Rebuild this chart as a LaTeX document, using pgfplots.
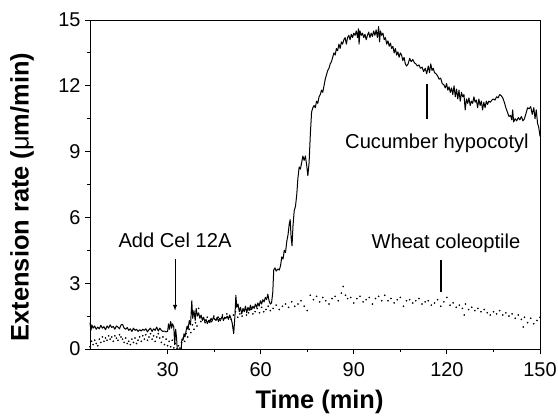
\documentclass[border=0pt]{standalone}
\usepackage{pgfplots}
\pgfplotsset{compat=1.18}
\usepackage{fontspec}
\setmainfont{Liberation Sans}
\pgfplotstableread{
t v
5.0 1.20
5.3 0.85
5.6 1.10
6.0 0.95
6.5 1.05
7.0 0.90
7.5 1.00
8.0 0.92
8.5 1.08
9.0 0.95
9.5 1.02
10.0 0.88
10.5 1.05
11.0 0.95
11.5 1.10
12.0 0.98
12.5 1.03
13.0 0.90
13.5 1.05
14.0 1.00
14.5 0.92
15.0 1.10
15.5 1.12
16.0 0.95
16.5 0.90
17.0 0.98
17.5 0.85
18.0 0.92
18.5 0.80
19.0 0.95
19.5 0.85
20.0 0.90
20.5 0.80
21.0 0.88
21.5 0.82
22.0 0.90
22.5 0.85
23.0 0.92
23.5 0.78
24.0 0.88
24.5 0.95
25.0 0.80
25.5 0.92
26.0 0.85
26.5 1.00
27.0 0.82
27.5 0.95
28.0 0.85
28.5 0.80
29.0 0.82
29.5 0.78
30.0 0.80
30.3 1.15
30.6 0.90
31.0 1.25
31.3 0.95
31.6 1.15
32.0 1.00
32.3 0.20
32.6 0.90
32.9 0.50
33.1 0.0
34.4 0.0
34.6 0.45
35.0 0.40
35.3 0.70
35.6 0.55
36.0 0.85
36.3 1.05
36.6 0.90
37.0 1.30
37.4 1.10
37.8 2.20
38.1 1.40
38.5 1.75
38.9 1.30
39.2 1.85
39.6 1.50
40.0 1.65
40.4 1.40
40.8 1.55
41.2 1.30
41.6 1.45
42.0 1.25
42.4 1.35
42.8 1.15
43.2 1.30
43.6 1.20
44.0 1.40
44.4 1.30
44.8 1.45
45.2 1.35
45.6 1.30
46.0 1.45
46.4 1.25
46.8 1.40
47.2 1.35
47.6 1.50
48.0 1.30
48.4 1.45
48.8 1.40
49.2 1.50
49.6 1.35
50.0 1.55
50.4 1.40
50.8 1.20
51.3 0.70
51.7 1.50
52.0 2.45
52.3 1.90
52.7 2.05
53.1 1.70
53.5 1.90
53.9 1.60
54.3 1.85
54.7 1.70
55.1 1.95
55.5 1.65
55.9 1.90
56.3 1.75
56.7 2.00
57.1 1.80
57.5 1.95
57.9 1.85
58.3 2.05
58.7 1.90
59.1 2.10
59.5 1.95
59.9 2.20
60.3 2.05
60.7 2.25
61.1 2.15
61.5 2.35
61.9 2.25
62.3 2.50
62.7 2.20
63.1 2.05
63.5 2.10
63.9 2.60
64.2 3.60
64.6 3.70
65.0 3.55
65.5 3.65
66.0 3.60
66.4 3.80
66.8 4.20
67.2 4.10
67.6 4.50
68.0 4.40
68.4 4.90
68.8 5.20
69.2 5.70
69.5 5.90
69.8 5.10
70.1 4.70
70.4 5.60
70.8 6.30
71.2 6.50
71.6 7.00
72.0 7.80
72.4 8.30
72.8 8.20
73.2 8.50
73.6 8.80
74.0 8.60
74.4 8.80
74.8 8.40
75.2 7.90
75.6 8.50
76.0 9.80
76.4 10.80
76.8 11.00
77.2 11.10
77.6 11.00
78.0 11.30
78.4 11.20
78.8 11.50
79.2 11.60
79.6 11.80
80.0 11.70
80.4 12.00
80.8 12.30
81.2 12.50
81.6 12.70
82.0 12.80
82.4 13.00
82.8 13.10
83.2 13.30
83.6 13.50
84.0 13.40
84.4 13.70
84.8 13.60
85.2 13.90
85.6 13.70
86.0 14.00
86.4 13.90
86.8 14.10
87.2 14.20
87.6 13.90
88.0 14.20
88.4 14.30
88.8 14.10
89.2 14.35
89.6 14.20
90.0 14.40
90.4 14.30
90.8 14.50
91.2 14.20
91.5 14.60
91.7 13.90
92.0 14.50
92.4 14.30
92.8 14.40
93.2 14.20
93.6 14.35
94.0 14.10
94.4 14.30
94.8 14.45
95.2 14.20
95.6 14.40
96.0 14.25
96.4 14.50
96.8 14.30
97.2 14.55
97.6 14.20
98.0 14.70
98.3 14.00
98.6 14.50
99.0 14.30
99.4 14.40
99.8 14.10
100.2 14.20
100.6 13.90
101.0 14.05
101.4 13.80
101.8 13.95
102.2 13.70
102.6 13.80
103.0 13.50
103.4 13.70
103.8 13.40
104.2 13.55
104.6 13.30
105.0 13.50
105.4 13.40
105.8 13.15
106.2 13.30
106.6 13.00
107.0 12.90
107.5 13.00
108.0 13.25
108.5 13.10
109.0 13.20
109.5 13.05
110.0 13.00
110.5 12.90
111.0 12.95
111.5 12.80
112.0 12.85
112.5 12.65
113.0 12.80
113.5 12.55
114.0 12.90
114.4 12.60
114.8 13.00
115.2 12.70
115.6 12.80
116.0 12.60
116.5 12.55
117.0 12.45
117.5 12.30
118.0 12.35
118.5 12.10
119.0 12.05
119.5 11.90
119.9 12.10
120.3 11.80
120.7 11.95
121.1 11.70
121.5 11.90
121.9 11.60
122.3 12.00
122.7 11.50
123.1 11.85
123.5 11.40
123.9 11.80
124.3 11.30
124.7 11.70
125.1 11.50
125.5 11.60
125.9 10.90
126.3 11.40
126.7 11.20
127.1 11.45
127.5 11.10
127.9 11.30
128.3 11.20
128.7 11.50
129.1 11.25
129.5 11.35
129.9 11.00
130.3 11.40
130.7 11.10
131.1 11.30
131.5 10.90
131.9 11.25
132.3 11.00
132.7 11.30
133.1 11.15
133.5 11.30
134.0 11.25
134.5 11.35
135.0 11.40
135.5 11.35
136.0 11.50
136.5 11.45
137.0 11.60
137.5 11.55
138.0 11.45
138.5 11.25
139.0 11.00
139.5 10.80
140.0 10.60
140.5 10.65
140.9 10.45
141.2 10.90
141.5 10.35
142.0 10.50
142.5 10.40
143.0 10.55
143.5 10.45
144.0 10.60
144.5 10.40
145.0 10.50
145.5 10.75
146.0 11.00
146.5 10.95
147.0 11.05
147.5 10.70
148.0 11.00
148.4 10.50
148.8 10.90
149.2 10.30
149.6 10.10
150.0 9.70
}\cucumber
\pgfplotstableread{
t v
5.0 0.10
5.5 0.35
6.0 0.20
6.5 0.40
7.0 0.25
7.5 0.15
8.0 0.45
8.5 0.30
9.0 0.55
9.5 0.35
10.0 0.50
10.5 0.40
11.0 0.60
11.5 0.45
12.0 0.55
12.5 0.35
13.0 0.60
13.5 0.50
14.0 0.40
14.5 0.65
15.0 0.55
15.5 0.45
16.0 0.30
16.5 0.50
17.0 0.25
17.5 0.35
18.0 0.20
18.5 0.45
19.0 0.30
19.5 0.50
20.0 0.25
20.5 0.40
21.0 0.55
21.5 0.35
22.0 0.60
22.5 0.45
23.0 0.65
23.5 0.40
24.0 0.55
24.5 0.70
25.0 0.45
25.5 0.60
26.0 0.35
26.5 0.55
27.0 0.70
27.5 0.50
28.0 0.30
28.5 0.55
29.0 0.20
29.5 0.45
30.0 0.15
30.5 0.35
31.0 0.10
31.5 0.40
32.0 0.05
32.5 0.25
33.0 0.00
33.5 0.15
34.0 0.05
34.5 0.30
35.0 0.50
35.5 0.35
36.0 0.70
36.5 0.55
37.0 0.90
37.5 0.75
38.0 1.10
38.5 0.90
39.0 1.20
39.5 1.05
40.0 1.85
40.7 1.25
41.4 1.40
42.1 1.20
42.8 1.45
43.5 1.30
44.2 1.25
44.9 1.50
45.6 1.35
46.3 1.45
47.0 1.30
47.7 1.55
48.4 1.40
49.1 1.60
49.8 1.45
50.5 1.35
51.2 1.55
51.9 1.70
52.6 1.45
53.3 1.60
54.0 1.50
54.7 1.75
55.4 1.55
56.1 1.65
56.8 1.80
57.5 1.60
58.2 1.70
58.9 1.85
59.6 1.65
60.3 1.90
61.0 1.70
61.7 1.80
62.4 1.95
63.1 1.75
64.0 1.85
65.0 2.00
66.0 1.80
67.0 1.95
68.0 2.05
69.0 1.90
70.0 2.15
71.0 1.95
72.0 2.05
73.0 2.20
74.0 1.95
75.0 1.75
76.0 2.45
77.0 2.25
78.0 2.40
79.0 2.15
80.0 2.35
81.0 2.20
82.0 2.05
83.0 2.30
84.0 2.40
85.0 2.20
86.0 2.55
86.6 2.85
87.3 2.45
88.0 2.30
89.0 2.35
90.0 2.10
91.0 2.30
92.0 2.40
93.0 2.15
94.0 2.25
95.0 2.35
96.0 2.05
97.0 2.30
98.0 2.40
99.0 2.20
100.0 2.45
101.0 2.20
102.0 2.30
103.0 2.10
104.0 2.25
105.0 2.35
106.0 1.95
107.0 2.20
108.0 2.25
109.0 2.10
110.0 2.20
111.0 2.30
112.0 2.05
113.0 2.15
114.0 2.20
115.0 2.00
116.0 2.10
117.0 2.25
118.0 1.95
119.0 2.15
120.0 2.35
121.0 2.00
122.0 2.10
123.0 1.90
124.0 2.00
125.0 1.85
125.6 1.55
126.0 2.05
127.0 1.80
128.0 1.90
129.0 1.75
130.0 1.85
131.0 1.70
132.0 1.80
133.0 1.65
134.0 1.55
135.0 1.70
136.0 1.60
137.0 1.75
138.0 1.55
139.0 1.65
140.0 1.50
141.0 1.60
142.0 1.40
143.0 1.55
144.0 1.35
144.6 1.00
145.0 1.45
146.0 1.20
147.0 1.40
148.0 1.15
149.0 1.30
150.0 1.45
}\wheat
\begin{document}
\begin{tikzpicture}
\path[use as bounding box] (-90bp,-68bp) rectangle (468bp,349bp);
\begin{axis}[
  at={(0,0)}, anchor=south west,
  scale only axis, width=450bp, height=329bp,
  xmin=5, xmax=150, ymin=0, ymax=15,
  xtick={30,60,90,120,150}, ytick={0,3,6,9,12,15},
  minor x tick num=1, minor y tick num=1,
  tick pos=left, tick align=outside,
  major tick length=5bp, minor tick length=3bp,
  axis line style={line width=0.9bp},
  every tick/.style={black, line width=0.9bp},
  /pgf/number format/assume math mode=true,
  ticklabel style={font=\fontsize{20}{23}\selectfont},
  xticklabel style={yshift=-5bp},
  yticklabel style={xshift=-1bp},
  xlabel={\bfseries Time (min)},
  ylabel={\bfseries Extension rate ({\mdseries μ}m/min)},
  label style={font=\fontsize{25.5}{28}\selectfont},
  x label style={at={(axis description cs:0.51,-0.161)}, anchor=center},
  y label style={at={(axis description cs:-0.151,0.462)}, anchor=center},
  clip=false,
]
\addplot[black, line width=1bp, line join=round] table[x=t, y=v] {\cucumber};
\addplot[black, only marks, mark=*, mark size=0.6bp] table[x=t, y=v] {\wheat};
\node[font=\fontsize{20.2}{23}\selectfont] at (axis cs:32.4,4.95) {Add Cel 12A};
\draw[black, line width=1bp, -{latex}] (axis cs:32.4,4.1) -- (axis cs:32.4,1.75);
\node[font=\fontsize{20.2}{23}\selectfont] at (axis cs:116.8,9.4) {Cucumber hypocotyl};
\draw[black, line width=1.2bp] (axis cs:113.6,12.1) -- (axis cs:113.6,10.5);
\node[font=\fontsize{20.2}{23}\selectfont] at (axis cs:119.7,4.8) {Wheat coleoptile};
\draw[black, line width=1.2bp] (axis cs:118.1,4.05) -- (axis cs:118.1,2.6);
\end{axis}
\end{tikzpicture}
\end{document}
